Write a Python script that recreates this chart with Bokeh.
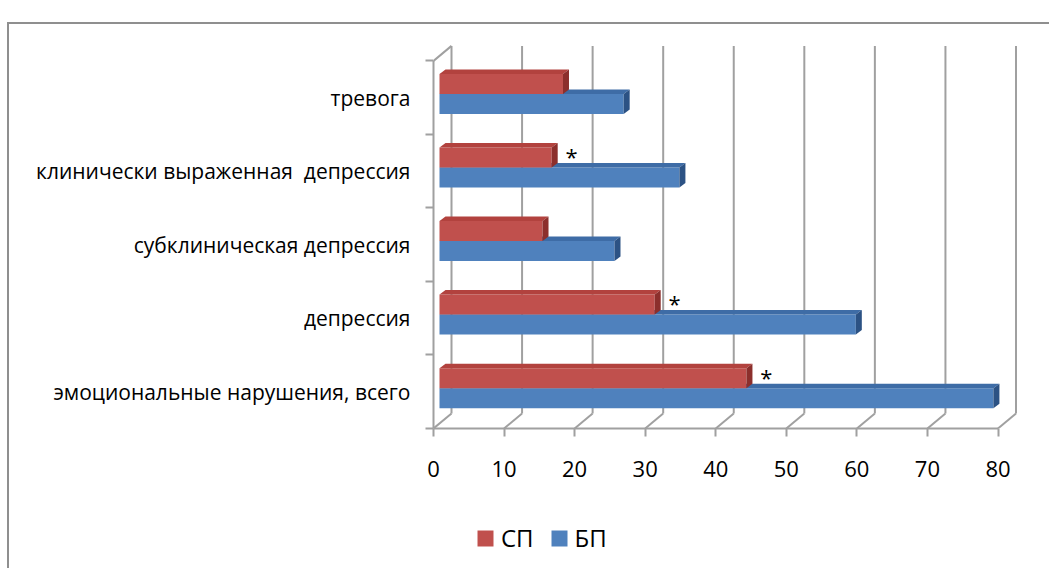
from bokeh.plotting import figure
from bokeh.layouts import column
from bokeh.models import FixedTicker, Legend, LegendItem
from bokeh.core.properties import value
from bokeh.embed import file_html
from bokeh.resources import INLINE

# ---------------- data ----------------
categories = [
    "эмоциональные нарушения, всего",
    "депрессия",
    "субклиническая депрессия",
    "клинически выраженная\u00a0 депрессия",
    "тревога",
]
sp_values = [43.5, 30.5, 14.6, 15.9, 17.5]   # СП
bp_values = [78.5, 59.0, 24.8, 34.0, 26.1]   # БП
significant = [True, True, False, True, False]
x_ticks = [0, 10, 20, 30, 40, 50, 60, 70, 80]
series_names = ["СП", "БП"]

# ---------------- layout ----------------
FONT = "Open Sans"
W, H = 1040, 476
ML, MR, MT, MB = 424, 28, 18, 72
FW, FH = W - ML - MR, H - MT - MB
X_END = FW * 80 / 564.5
Y_END = 5.25
ux = X_END / FW          # data units per pixel (x)
uy = Y_END / FH          # data units per pixel (y)

DX, DY = 18 * ux, 15 * uy          # depth of walls
BX0 = 6 * ux                       # bar front offset
BDX, BDY = 6 * ux, 4.5 * uy        # bar depth
BH = 20 * uy                       # bar thickness
BLUE_LO = 0.277

GRID = "#a0a0a0"
RED = ("#c0504d", "#b2423e", "#8c2f2c")    # front, top, side
BLUE = ("#4f81bd", "#3e6ca6", "#2c5284")

p = figure(width=W, height=H, x_range=(0, X_END), y_range=(0, Y_END),
           output_backend="svg", toolbar_location=None,
           min_border_left=ML, min_border_right=MR,
           min_border_top=MT, min_border_bottom=MB)
p.xgrid.visible = False
p.ygrid.visible = False
p.outline_line_color = None
p.background_fill_color = "white"
p.border_fill_color = "white"

ncat = len(categories)

# walls: back gridlines, floor diagonals, top-left edge
p.segment(x0=[t + DX for t in x_ticks], y0=[DY] * len(x_ticks),
          x1=[t + DX for t in x_ticks], y1=[ncat + DY] * len(x_ticks),
          line_color=GRID, line_width=2)
p.segment(x0=x_ticks, y0=[0] * len(x_ticks),
          x1=[t + DX for t in x_ticks], y1=[DY] * len(x_ticks),
          line_color=GRID, line_width=2)
p.segment(x0=[0], y0=[ncat], x1=[DX], y1=[ncat + DY], line_color=GRID, line_width=2)


def bar_faces(vals, lo_offset):
    fl, fr, fb, ft = [], [], [], []
    txs, tys, sxs, sys_ = [], [], [], []
    for i, v in enumerate(vals):
        y0 = i + lo_offset
        y1 = y0 + BH
        x0 = BX0
        x1 = BX0 + v
        fl.append(x0); fr.append(x1); fb.append(y0); ft.append(y1)
        txs.append([x0, x1, x1 + BDX, x0 + BDX])
        tys.append([y1, y1, y1 + BDY, y1 + BDY])
        sxs.append([x1, x1 + BDX, x1 + BDX, x1])
        sys_.append([y0, y0 + BDY, y1 + BDY, y1])
    return fl, fr, fb, ft, txs, tys, sxs, sys_


for name, vals, lo, cols in [("БП", bp_values, BLUE_LO, BLUE),
                             ("СП", sp_values, BLUE_LO + BH, RED)]:
    fl, fr, fb, ft, txs, tys, sxs, sys_ = bar_faces(vals, lo)
    p.quad(left=fl, right=fr, bottom=fb, top=ft, fill_color=cols[0], line_color=None)
    p.patches(xs=txs, ys=tys, fill_color=cols[1], line_color=None)
    p.patches(xs=sxs, ys=sys_, fill_color=cols[2], line_color=None)

# significance marks
sx = [BX0 + v + 2.8 for v, s in zip(sp_values, significant) if s]
sy = [i + 0.72 for i, s in enumerate(significant) if s]
p.text(x=sx, y=sy, text=["*"] * len(sx), text_align="center", text_baseline="middle",
       y_offset=1, text_font=value(FONT), text_font_size="22px", text_color="black")

# y axis (categories)
cat_ticks = [i + 0.5 for i in range(ncat)]
p.yaxis.ticker = FixedTicker(ticks=cat_ticks, minor_ticks=list(range(ncat + 1)))
p.yaxis.major_label_overrides = {t: c for t, c in zip(cat_ticks, categories)}
p.yaxis.bounds = (0, ncat)
p.yaxis.axis_line_color = GRID
p.yaxis.axis_line_width = 2
p.yaxis.major_tick_out = 0
p.yaxis.major_tick_in = 0
p.yaxis.minor_tick_out = 8
p.yaxis.minor_tick_in = 0
p.yaxis.minor_tick_line_color = GRID
p.yaxis.minor_tick_line_width = 2
p.yaxis.major_label_standoff = 15
p.yaxis.major_label_text_font = FONT
p.yaxis.major_label_text_font_size = "21px"
p.yaxis.major_label_text_color = "black"

# x axis
p.xaxis.ticker = FixedTicker(ticks=x_ticks)
p.xaxis.bounds = (0, 80)
p.xaxis.axis_line_color = GRID
p.xaxis.axis_line_width = 2
p.xaxis.major_tick_out = 8
p.xaxis.major_tick_in = 0
p.xaxis.major_tick_line_color = GRID
p.xaxis.major_tick_line_width = 2
p.xaxis.minor_tick_line_color = None
p.xaxis.major_label_standoff = 24
p.xaxis.major_label_text_font = FONT
p.xaxis.major_label_text_font_size = "22px"
p.xaxis.major_label_text_color = "black"

# legend figure (its frame is aligned with the chart frame by the column)
H2 = 68
p2 = figure(width=W, height=H2, x_range=(0, 1), y_range=(0, 1),
            output_backend="svg", toolbar_location=None,
            x_axis_location=None, y_axis_location=None,
            min_border=0)
p2.xgrid.visible = False
p2.ygrid.visible = False
p2.outline_line_color = None
nan = float("nan")
lr = p2.quad(left=[nan], right=[nan], bottom=[nan], top=[nan], fill_color=RED[0], line_color=None)
lb = p2.quad(left=[nan], right=[nan], bottom=[nan], top=[nan], fill_color=BLUE[0], line_color=None)
legend = Legend(items=[LegendItem(label=series_names[0], renderers=[lr]),
                       LegendItem(label=series_names[1], renderers=[lb])],
                orientation="horizontal", location=(42, 14),
                glyph_width=20, glyph_height=20, label_standoff=6, spacing=15,
                padding=0, margin=0, border_line_color=None, background_fill_alpha=0,
                label_text_font=FONT, label_text_font_size="24px", label_text_color="black")
p2.add_layout(legend, "center")

layout = column(p, p2, margin=(22, 0, 0, 7),
                styles={"border-top": "2px solid #8f8f8f", "border-left": "2px solid #8f8f8f"})

open("out.html", "w").write(file_html(layout, INLINE))
